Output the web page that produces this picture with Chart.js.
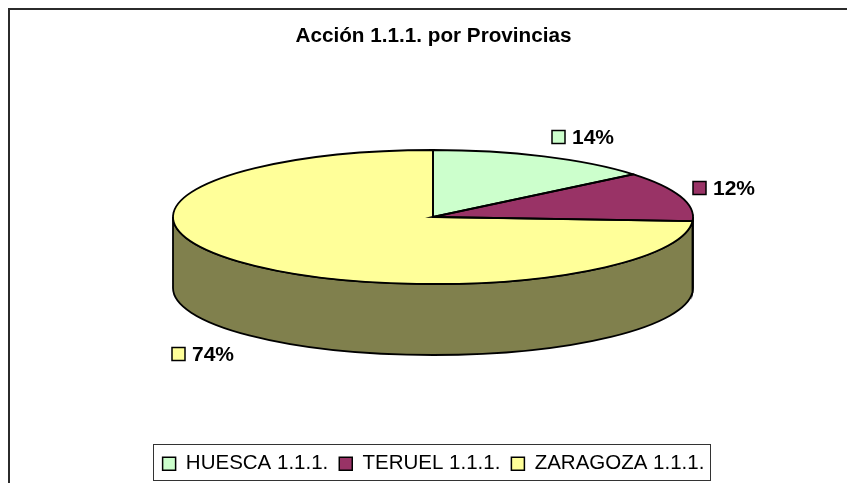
<!DOCTYPE html>
<html>
<head>
<meta charset="utf-8">
<title>Acción 1.1.1. por Provincias</title>
<script src="https://cdn.jsdelivr.net/npm/chart.js@4"></script>
<style>
  html, body { margin: 0; padding: 0; background: #fff; }
  canvas { display: block; }
</style>
</head>
<body>
<canvas id="chart-pie" width="847" height="483"></canvas>
<script>
const titleText = 'Acción 1.1.1. por Provincias';
const provinces = ['HUESCA 1.1.1.', 'TERUEL 1.1.1.', 'ZARAGOZA 1.1.1.'];
const shares = [14, 12, 74];
const sliceColors = ['#CCFFCC', '#993366', '#FFFF99'];
const wallColors = ['#668066', '#4D1A33', '#80804D'];

// where each "NN%" tag sits (left of its square, centre of the text)
const tagSpots = [[552, 137], [693, 188], [172, 354]];

const FONT = '"Liberation Sans", Arial, sans-serif';
const PIE_X = 433, PIE_Y = 217, PIE_RX = 260, PIE_RY = 67, PIE_DEPTH = 71;

function topOutline(ctx, a) {
  ctx.beginPath();
  ctx.moveTo(PIE_X, PIE_Y);
  ctx.ellipse(PIE_X, PIE_Y, PIE_RX, PIE_RY, 0, a.startAngle, a.endAngle);
  ctx.closePath();
  ctx.stroke();
}

function drawWall(ctx, a, color) {
  const from = Math.max(a.startAngle, 0), to = Math.min(a.endAngle, Math.PI);
  if (to <= from) return;
  ctx.beginPath();
  ctx.ellipse(PIE_X, PIE_Y, PIE_RX, PIE_RY, 0, from, to);
  ctx.ellipse(PIE_X, PIE_Y + PIE_DEPTH, PIE_RX, PIE_RY, 0, to, from, true);
  ctx.closePath();
  ctx.fillStyle = color;
  ctx.fill();
  ctx.stroke();
}

// squash the flat pie into an ellipse and give it a side wall
const pie3d = {
  id: 'pie3d',
  beforeDraw(chart) {
    const ctx = chart.ctx;
    ctx.save();
    ctx.strokeStyle = '#2b2b2b';
    ctx.lineWidth = 2;
    ctx.beginPath();
    ctx.moveTo(9, 483);
    ctx.lineTo(9, 9);
    ctx.lineTo(847, 9);
    ctx.stroke();
    ctx.restore();
  },
  beforeDatasetsDraw(chart) {
    const ctx = chart.ctx;
    const arcs = chart.getDatasetMeta(0).data;
    ctx.save();
    ctx.strokeStyle = '#000';
    ctx.lineWidth = 1.8;
    arcs.forEach((a, i) => drawWall(ctx, a, wallColors[i]));
    ctx.restore();
    ctx.save();
    ctx.translate(PIE_X, PIE_Y);
    ctx.scale(1, PIE_RY / PIE_RX);
    ctx.translate(-arcs[0].x, -arcs[0].y);
  },
  afterDatasetsDraw(chart) {
    const ctx = chart.ctx;
    ctx.restore();
    ctx.save();
    ctx.strokeStyle = '#000';
    ctx.lineWidth = 1.8;
    chart.getDatasetMeta(0).data.forEach(a => topOutline(ctx, a));

    // percentage tags
    ctx.lineWidth = 1.5;
    ctx.font = 'bold 21px ' + FONT;
    ctx.textBaseline = 'middle';
    ctx.textAlign = 'left';
    shares.forEach((v, i) => {
      const [x, y] = tagSpots[i];
      ctx.fillStyle = sliceColors[i];
      ctx.fillRect(x, y - 6.5, 13, 13);
      ctx.strokeRect(x, y - 6.5, 13, 13);
      ctx.fillStyle = '#000';
      ctx.fillText(v + '%', x + 20, y + 1);
    });

    // frame round the legend
    ctx.strokeStyle = '#333';
    ctx.lineWidth = 1;
    ctx.strokeRect(153.5, 444.5, 557, 36);
    ctx.restore();
  }
};

new Chart(document.getElementById('chart-pie').getContext('2d'), {
  type: 'pie',
  data: {
    labels: provinces,
    datasets: [{
      data: shares,
      backgroundColor: sliceColors,
      borderWidth: 0,
      radius: PIE_RX,
      clip: false
    }]
  },
  options: {
    responsive: false,
    animation: false,
    layout: { padding: { left: 20, bottom: -1 } },
    plugins: {
      tooltip: { enabled: false },
      title: {
        display: true,
        text: titleText,
        color: '#000',
        font: { family: FONT, size: 20.7, weight: 'bold' },
        padding: { top: 24, bottom: 0 }
      },
      legend: {
        position: 'bottom',
        labels: {
          color: '#000',
          font: { family: FONT, size: 20.5 },
          boxWidth: 13,
          boxHeight: 13,
          padding: 11,
          generateLabels(chart) {
            return provinces.map((p, i) => ({
              text: p,
              index: i,
              fillStyle: sliceColors[i],
              strokeStyle: '#000',
              lineWidth: 1.5,
              fontColor: '#000'
            }));
          }
        }
      }
    }
  },
  plugins: [pie3d]
});
</script>
</body>
</html>
